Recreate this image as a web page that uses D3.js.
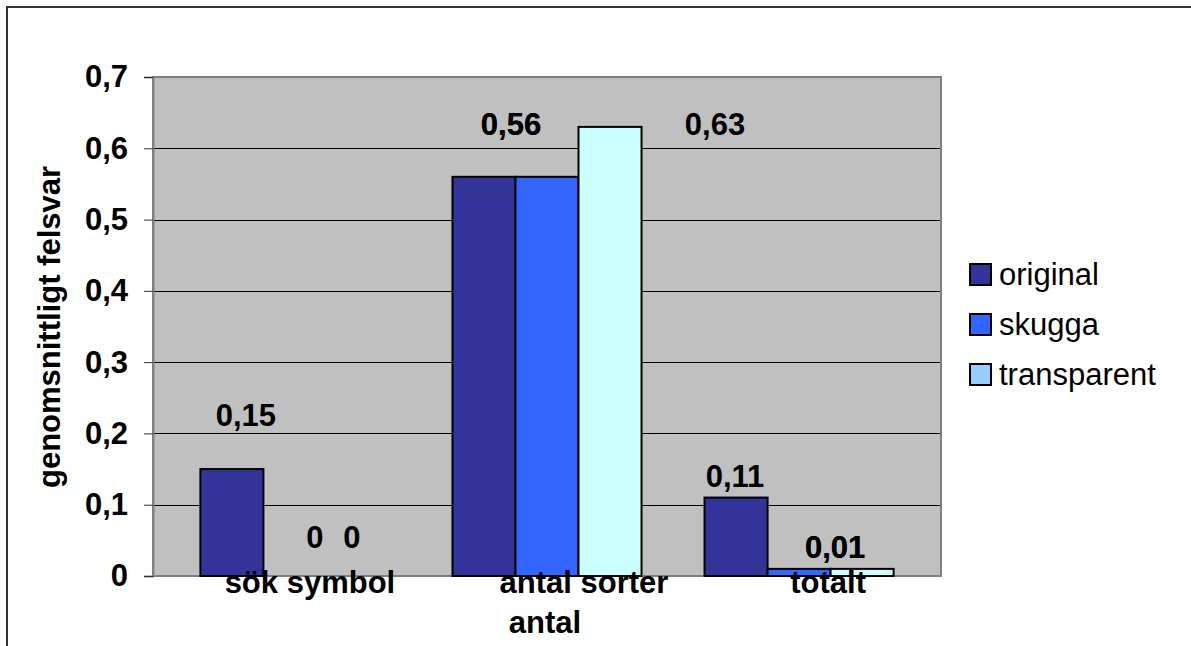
<!DOCTYPE html>
<html>
<head>
<meta charset="utf-8">
<script src="https://cdn.jsdelivr.net/npm/d3@7"></script>
<style>
  html, body { margin: 0; padding: 0; background: #fff; }
  svg { display: block; font-family: "Liberation Sans", Arial, sans-serif; }
</style>
</head>
<body>
<svg id="chart" width="1191" height="646"></svg>
<script>
// Category names (lines of each axis label) and the three series
const categories = ["sök symbol", "antal sorter antal", "totalt"];
const categoryLines = [["sök symbol"], ["antal sorter", "antal"], ["totalt"]];
const seriesNames = ["original", "skugga", "transparent"];
const original = [0.15, 0.56, 0.11];
const skugga = [0, 0.56, 0.01];
const transparent = [0, 0.63, 0.01];
const yTicks = [0, 0.1, 0.2, 0.3, 0.4, 0.5, 0.6, 0.7];
const yTitle = "genomsnittligt felsvar";

const seriesValues = [original, skugga, transparent];
const barColors = ["#333399", "#3366FF", "#CCFFFF"];
const legendColors = ["#333399", "#3366FF", "#99CCFF"];

// Hand-placed value labels: [dx from bar centre, dy from bar top] per series/category
const labelShift = [
  [[14, -43], [27, -42], [-1, -11]],
  [[20, -28], [-36, -42], [36, -11]],
  [[-6, -28], [105, 8], [-27, -11]]
];
// Horizontal nudge for each line of the category labels
const categoryLineShift = [[15], [37, -2], [29]];

const svg = d3.select("#chart");
const plot = { left: 153, right: 941, top: 77, bottom: 576 };
const fontSize = 31;
const fmt = v => String(v).replace(".", ",");

// Outer chart frame (only the top and left edges fall inside the page)
svg.append("path")
  .attr("d", "M7,1000 L7,7 L1300,7")
  .attr("fill", "none")
  .attr("stroke", "#333")
  .attr("stroke-width", 2);

const y = d3.scaleLinear().domain([0, 0.7]).range([plot.bottom, plot.top]);
const x0 = d3.scaleBand().domain(categories)
  .range([plot.left, plot.right])
  .paddingInner(0.25).paddingOuter(0.188);
const x1 = d3.scaleBand().domain(seriesNames).range([0, x0.bandwidth()]);

// Plot area background
svg.append("rect")
  .attr("x", plot.left).attr("y", plot.top)
  .attr("width", plot.right - plot.left).attr("height", plot.bottom - plot.top)
  .attr("fill", "#C0C0C0");

// Gridlines
svg.append("g").selectAll("line")
  .data(yTicks.filter(t => t > 0 && t < 0.7))
  .join("line")
  .attr("x1", plot.left).attr("x2", plot.right)
  .attr("y1", d => Math.round(y(d)) + 0.5).attr("y2", d => Math.round(y(d)) + 0.5)
  .attr("stroke", "#000").attr("stroke-width", 1);

// Plot area border
svg.append("rect")
  .attr("x", plot.left).attr("y", plot.top)
  .attr("width", plot.right - plot.left).attr("height", plot.bottom - plot.top)
  .attr("fill", "none").attr("stroke", "#808080").attr("stroke-width", 2);

// Y axis
const yAxis = d3.axisLeft(y)
  .tickValues(yTicks)
  .tickSize(9)
  .tickPadding(16)
  .tickFormat(fmt);
const gy = svg.append("g")
  .attr("transform", `translate(${plot.left},0)`)
  .call(yAxis);
gy.select(".domain").attr("stroke", "#808080").attr("stroke-width", 2);
gy.selectAll(".tick line").attr("stroke", "#333").attr("stroke-width", 1);
gy.selectAll(".tick text")
  .attr("font-size", fontSize)
  .attr("font-weight", "bold")
  .attr("fill", "#000")
  .attr("font-family", "'Liberation Sans', Arial, sans-serif");

// Y axis title
svg.append("text")
  .attr("transform", `translate(60,327) rotate(-90)`)
  .attr("text-anchor", "middle")
  .attr("font-size", fontSize)
  .attr("font-weight", "bold")
  .text(yTitle);

// Bars
const groups = svg.append("g").selectAll("g")
  .data(categories)
  .join("g")
  .attr("transform", d => `translate(${x0(d)},0)`);

groups.selectAll("rect")
  .data((c, ci) => seriesNames.map((s, si) => ({ s, si, ci, v: seriesValues[si][ci] })))
  .join("rect")
  .attr("x", d => x1(d.s))
  .attr("y", d => y(d.v))
  .attr("width", x1.bandwidth())
  .attr("height", d => y(0) - y(d.v))
  .attr("fill", d => barColors[d.si])
  .attr("stroke", "#000")
  .attr("stroke-width", 2);

// Value labels
groups.selectAll("text.val")
  .data((c, ci) => seriesNames.map((s, si) => ({ s, si, ci, v: seriesValues[si][ci] })))
  .join("text")
  .attr("class", "val")
  .attr("x", d => x1(d.s) + x1.bandwidth() / 2 + labelShift[d.si][d.ci][0])
  .attr("y", d => y(d.v) + labelShift[d.si][d.ci][1])
  .attr("text-anchor", "middle")
  .attr("font-size", fontSize)
  .attr("font-weight", "bold")
  .text(d => fmt(d.v));

// Category labels
groups.each(function (c, ci) {
  const g = d3.select(this);
  categoryLines[ci].forEach((line, li) => {
    g.append("text")
      .attr("x", x0.bandwidth() / 2 + categoryLineShift[ci][li])
      .attr("y", 593 + li * 40)
      .attr("text-anchor", "middle")
      .attr("font-size", fontSize)
      .attr("font-weight", "bold")
      .text(line);
  });
});

// Legend
const legend = svg.append("g").attr("transform", "translate(970,264)");
const items = legend.selectAll("g")
  .data(seriesNames)
  .join("g")
  .attr("transform", (d, i) => `translate(0,${i * 50})`);
items.append("rect")
  .attr("width", 21).attr("height", 21)
  .attr("fill", (d, i) => legendColors[i])
  .attr("stroke", "#000").attr("stroke-width", 2);
items.append("text")
  .attr("x", 29).attr("y", 21)
  .attr("font-size", fontSize)
  .text(d => d);
</script>
</body>
</html>
